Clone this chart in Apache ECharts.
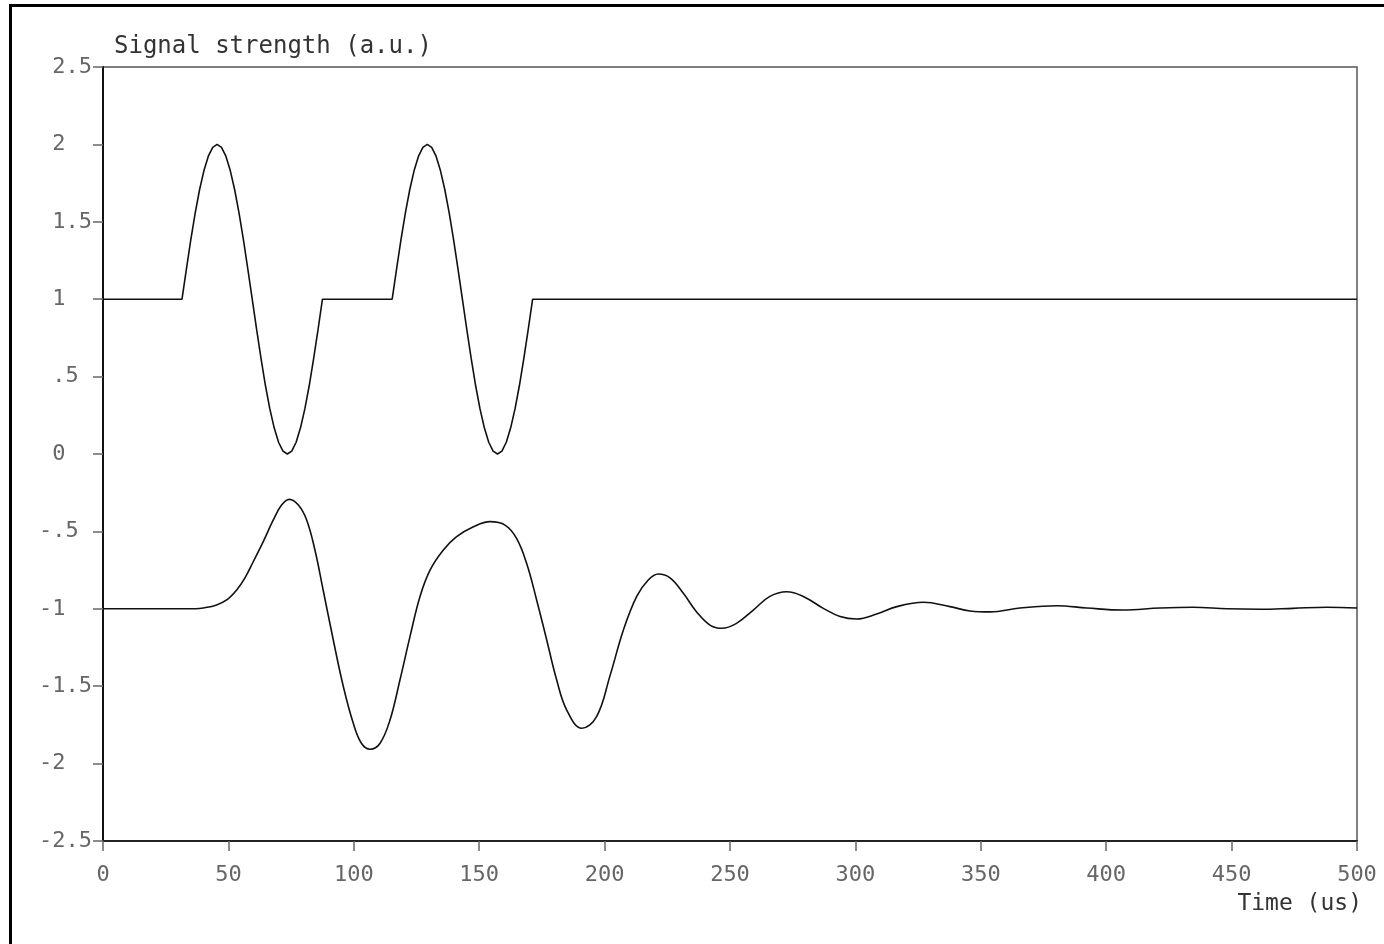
<!DOCTYPE html>
<html>
<head>
<meta charset="utf-8">
<script src="https://cdn.jsdelivr.net/npm/echarts@6/dist/echarts.min.js"></script>
<style>
html,body{margin:0;padding:0;background:#fff;}
#wrap{position:relative;width:1384px;height:944px;overflow:hidden;}
#chart{position:absolute;left:0;top:0;width:1384px;height:944px;}
#frame{position:absolute;left:9px;top:4px;width:1400px;height:1000px;border-top:3px solid #000;border-left:3px solid #000;pointer-events:none;}
</style>
</head>
<body>
<div id="wrap"><div id="chart"></div><div id="frame"></div></div>
<script>
// Top trace: two one-period sine bursts on a baseline of 1
const topT = [0, 31.5, 33.25, 35, 36.75, 38.5, 40.25, 42, 43.75, 45.5, 47.25, 49, 50.75, 52.5, 54.25, 56, 57.75, 59.5, 61.25, 63, 64.75, 66.5, 68.25, 70, 71.75, 73.5, 75.25, 77, 78.75, 80.5, 82.25, 84, 85.75, 87.5,
  115.3, 117.05, 118.8, 120.55, 122.3, 124.05, 125.8, 127.55, 129.3, 131.05, 132.8, 134.55, 136.3, 138.05, 139.8, 141.55, 143.3, 145.05, 146.8, 148.55, 150.3, 152.05, 153.8, 155.55, 157.3, 159.05, 160.8, 162.55, 164.3, 166.05, 167.8, 169.55, 171.3, 500];
const topV = [1, 1, 1.195, 1.383, 1.556, 1.707, 1.831, 1.924, 1.981, 2, 1.981, 1.924, 1.831, 1.707, 1.556, 1.383, 1.195, 1, 0.805, 0.617, 0.444, 0.293, 0.169, 0.076, 0.019, 0, 0.019, 0.076, 0.169, 0.293, 0.444, 0.617, 0.805, 1,
  1, 1.195, 1.383, 1.556, 1.707, 1.831, 1.924, 1.981, 2, 1.981, 1.924, 1.831, 1.707, 1.556, 1.383, 1.195, 1, 0.805, 0.617, 0.444, 0.293, 0.169, 0.076, 0.019, 0, 0.019, 0.076, 0.169, 0.293, 0.444, 0.617, 0.805, 1, 1];

// Bottom trace: received, ringing response on a baseline of -1
const botT = [0, 37, 40, 45.3, 49.3, 53.3, 56.6, 59.9, 63.9, 67.9, 71.2, 74.3, 77.9, 81.2, 84.5, 87.8, 91.8, 95.8, 99.8, 103.1, 106.5, 110.4, 114.4, 118.4, 122.4, 126.4, 130.4, 135.7, 141, 147.7, 154.3, 160.3, 164.9, 168.9, 172.9, 176.9, 180.9, 184.9, 190.9, 196.8, 202.2, 207.5, 212.8, 217.4, 221.4, 226.1, 231.4, 236.7, 242, 246.7, 252.6, 259.3, 265.9, 272.6, 279.2, 287.2, 293.9, 300.5, 308.5, 316.5, 327.1, 337.7, 345.7, 353.7, 365.6, 380.4, 392.3, 406.7, 421.5, 434.6, 448.2, 461.3, 474.5, 488, 500];
const botV = [-1, -1, -0.995, -0.975, -0.943, -0.878, -0.80, -0.696, -0.566, -0.426, -0.33, -0.293, -0.33, -0.426, -0.62, -0.88, -1.20, -1.50, -1.74, -1.87, -1.907, -1.87, -1.72, -1.46, -1.18, -0.92, -0.75, -0.62, -0.534, -0.47, -0.437, -0.459, -0.545, -0.706, -0.943, -1.20, -1.46, -1.654, -1.772, -1.697, -1.43, -1.137, -0.92, -0.814, -0.775, -0.80, -0.90, -1.02, -1.105, -1.126, -1.094, -1.008, -0.92, -0.89, -0.92, -0.997, -1.05, -1.066, -1.034, -0.986, -0.958, -0.986, -1.014, -1.02, -0.995, -0.98, -0.995, -1.008, -0.995, -0.99, -1.0, -1.003, -0.997, -0.99, -0.995];

const yTitle = 'Signal strength (a.u.)';
const xTitle = 'Time (us)';

const FONT = 'DejaVu Sans Mono';
const pair = (t, v) => t.map((x, i) => [x, v[i]]);

function yFmt(val) {
  let a = Math.abs(val);
  let s = String(a);
  if (a > 0 && a < 1) s = s.replace(/^0/, '');
  return (val < 0 ? '-' : '{h|-}') + s;
}

const chart = echarts.init(document.getElementById('chart'), null, {renderer: 'canvas'});
chart.setOption({
  animation: false,
  backgroundColor: '#fff',
  grid: {left: 103, right: 27, top: 67, bottom: 103, show: true, borderColor: '#555', borderWidth: 1.5, containLabel: false},
  xAxis: {
    type: 'value', min: 0, max: 500, interval: 50,
    name: xTitle, nameLocation: 'end', nameGap: 5,
    nameTextStyle: {fontFamily: FONT, fontSize: 23, color: '#333', align: 'right', verticalAlign: 'top', padding: [52, 0, 0, 0]},
    axisLine: {show: true, onZero: false, lineStyle: {color: '#222', width: 2}},
    axisTick: {show: true, inside: false, length: 10, lineStyle: {color: '#666', width: 1.5}},
    axisLabel: {fontFamily: FONT, fontSize: 22, color: '#666', margin: 23, showMinLabel: true, showMaxLabel: true},
    splitLine: {show: false}
  },
  yAxis: {
    type: 'value', min: -2.5, max: 2.5, interval: 0.5,
    name: yTitle, nameLocation: 'end', nameGap: 8,
    nameTextStyle: {fontFamily: FONT, fontSize: 24, color: '#333', align: 'left', padding: [0, 0, 0, 11]},
    axisLine: {show: true, onZero: false, lineStyle: {color: '#111', width: 2}},
    axisTick: {show: true, inside: false, length: 10, lineStyle: {color: '#666', width: 1.5}},
    axisLabel: {
      fontFamily: FONT, fontSize: 22, color: '#666', margin: 64, align: 'left',
      formatter: yFmt,
      rich: {h: {fontFamily: FONT, fontSize: 22, color: 'rgba(0,0,0,0)'}}
    },
    splitLine: {show: false}
  },
  series: [
    {type: 'line', data: pair(topT, topV), showSymbol: false, smooth: false, lineStyle: {color: '#111', width: 1.6}},
    {type: 'line', data: pair(botT, botV), showSymbol: false, smooth: 0.4, lineStyle: {color: '#111', width: 1.6}}
  ]
});
</script>
</body>
</html>
